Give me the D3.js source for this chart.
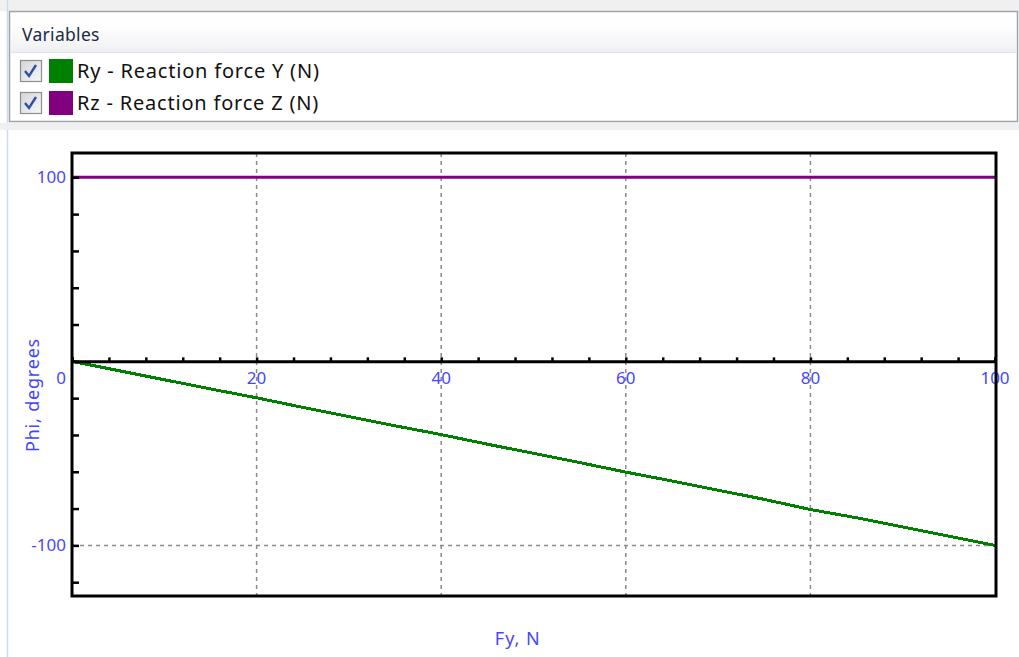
<!DOCTYPE html>
<html><head><meta charset="utf-8">
<script src="https://cdn.jsdelivr.net/npm/d3@7"></script>
<style>
html,body{margin:0;padding:0;background:#fff;}
svg{display:block;}
</style></head>
<body>
<svg id="c" width="1019" height="657"></svg>
<script>
// ---- data ----
const fyValues = [0,5,10,15,20,25,30,35,40,45,50,55,60,65,70,75,80,85,90,95,100];
const ryValues = [0,-5,-10,-15,-19.8,-25,-30,-35,-39.8,-45,-50,-55,-60.2,-65,-70,-75,-80.5,-85,-90,-95,-100];
const rzValues = [100,100,100,100,100,100,100,100,100,100,100,100,100,100,100,100,100,100,100,100,100];
const seriesNames = ["Ry - Reaction force Y (N)", "Rz - Reaction force Z (N)"];
const seriesColors = ["#008000", "#800080"];
const xTickLabels = [20,40,60,80,100];
const yTickLabels = [100,0,-100];
const xTitle = "Fy, N";
const yTitle = "Phi, degrees";
const legendTitle = "Variables";

const svg = d3.select("#c");
const blue = "#4646ff";
const font = "'Noto Sans', 'DejaVu Sans', sans-serif";

// ---- background panel ----
svg.append("rect").attr("x",0).attr("y",0).attr("width",1019).attr("height",11).attr("fill","#f0f0f0");
svg.append("line").attr("x1",7.5).attr("x2",7.5).attr("y1",0).attr("y2",657).attr("stroke","#d0dbe9").attr("stroke-width",1.5);
svg.append("rect").attr("x",0).attr("y",123).attr("width",1019).attr("height",7).attr("fill","#f0f0f0");

const defs = svg.append("defs");
const g1 = defs.append("linearGradient").attr("id","hdr").attr("x1",0).attr("x2",0).attr("y1",0).attr("y2",1);
g1.append("stop").attr("offset","0%").attr("stop-color","#ffffff");
g1.append("stop").attr("offset","40%").attr("stop-color","#fdfdfd");
g1.append("stop").attr("offset","100%").attr("stop-color","#eff0f3");
const g2 = defs.append("linearGradient").attr("id","cb").attr("x1",0).attr("x2",1).attr("y1",0).attr("y2",1);
g2.append("stop").attr("offset","0%").attr("stop-color","#d4d4d4");
g2.append("stop").attr("offset","100%").attr("stop-color","#f8f8f8");

svg.append("rect").attr("x",9.5).attr("y",11.5).attr("width",1008).attr("height",110).attr("fill","#fff").attr("stroke","#9fa3ab").attr("stroke-width",1.5);
svg.append("rect").attr("x",11).attr("y",13).attr("width",1005).attr("height",39).attr("fill","url(#hdr)");
svg.append("line").attr("x1",11).attr("x2",1016).attr("y1",52.5).attr("y2",52.5).attr("stroke","#e2e3e6");
svg.append("text").attr("x",22).attr("y",41).text(legendTitle)
  .attr("font-family",font).attr("font-size",17.5).attr("letter-spacing",0.3).attr("fill","#1c2b45");

const rowY = [71, 103];
seriesNames.forEach((name,i)=>{
  const cy = rowY[i];
  svg.append("rect").attr("x",20.5).attr("y",cy-10.5).attr("width",21).attr("height",21)
    .attr("fill","url(#cb)").attr("stroke","#8e8e8e").attr("stroke-width",1.2);
  svg.append("path").attr("d",`M${25},${cy+0} L${29},${cy+5} L${36},${cy-6}`)
    .attr("fill","none").attr("stroke","#3050a8").attr("stroke-width",2.4);
  svg.append("rect").attr("x",49).attr("y",cy-12).attr("width",24).attr("height",24).attr("fill",seriesColors[i]);
  svg.append("text").attr("x",77).attr("y",cy+7).text(name)
    .attr("font-family",font).attr("font-size",20).attr("letter-spacing",0.8).attr("fill","#111");
});

// ---- chart ----
const L=72, R=995, T=153, B=596;
const x = d3.scaleLinear().domain([0,100]).range([L,R]);
const y = d3.scaleLinear().domain([-127.5,113.2]).range([B,T]);

// grid
const gridX = xTickLabels.filter(v=>v<100);
svg.append("g").selectAll("line").data(gridX).join("line")
  .attr("x1",d=>x(d)).attr("x2",d=>x(d)).attr("y1",T).attr("y2",B)
  .attr("stroke","#8a8a8a").attr("stroke-width",1.5).attr("stroke-dasharray","4,4");
svg.append("g").selectAll("line").data([100,-100]).join("line")
  .attr("x1",L).attr("x2",R).attr("y1",d=>y(d)).attr("y2",d=>y(d))
  .attr("stroke","#8a8a8a").attr("stroke-width",1.5).attr("stroke-dasharray","4,4");

// tick labels
svg.append("g").selectAll("text").data(xTickLabels).join("text")
  .attr("x",d=>x(d)).attr("y",y(0)+23).attr("text-anchor","middle").text(d=>d)
  .attr("font-family",font).attr("font-size",17).attr("fill",blue);
svg.append("g").selectAll("text").data(yTickLabels).join("text")
  .attr("x",66).attr("y",d=> d===0 ? y(0)+23 : y(d)+6).attr("text-anchor","end").text(d=>d)
  .attr("font-family",font).attr("font-size",17).attr("fill",blue);

// axis titles
svg.append("text").attr("x",x(48.3)).attr("y",645).attr("text-anchor","middle").text(xTitle)
  .attr("font-family",font).attr("font-size",18).attr("letter-spacing",1).attr("fill",blue);
svg.append("text").attr("transform",`translate(39,395) rotate(-90)`).attr("text-anchor","middle").text(yTitle)
  .attr("font-family",font).attr("font-size",18).attr("letter-spacing",0.8).attr("fill",blue);

// series
const line = d3.line().x(d=>x(d[0])).y(d=>y(d[1]));
svg.append("path").datum(fyValues.map((v,i)=>[v,rzValues[i]])).attr("d",line)
  .attr("fill","none").attr("stroke",seriesColors[1]).attr("stroke-width",3);
svg.append("path").datum(fyValues.map((v,i)=>[v,ryValues[i]])).attr("d",line)
  .attr("fill","none").attr("stroke",seriesColors[0]).attr("stroke-width",3).attr("shape-rendering","crispEdges");

// x axis at zero with minor ticks
const xAxis = d3.axisTop(x).tickValues(d3.range(0,101,4)).tickSize(4).tickFormat("");
const gx = svg.append("g").attr("transform",`translate(0,${y(0)})`).call(xAxis);
gx.select(".domain").attr("stroke","#000").attr("stroke-width",3);
gx.selectAll(".tick line").attr("stroke","#000").attr("stroke-width",2.5);

// y minor ticks (inward)
const yAxis = d3.axisRight(y).tickValues(d3.range(-120,101,20)).tickSize(7).tickFormat("");
const gy = svg.append("g").attr("transform",`translate(${L},0)`).call(yAxis);
gy.select(".domain").remove();
gy.selectAll(".tick line").attr("stroke","#000").attr("stroke-width",2.5);

// frame
svg.append("rect").attr("x",L).attr("y",T).attr("width",R-L+1).attr("height",B-T)
  .attr("fill","none").attr("stroke","#000").attr("stroke-width",3);
</script>
</body></html>
